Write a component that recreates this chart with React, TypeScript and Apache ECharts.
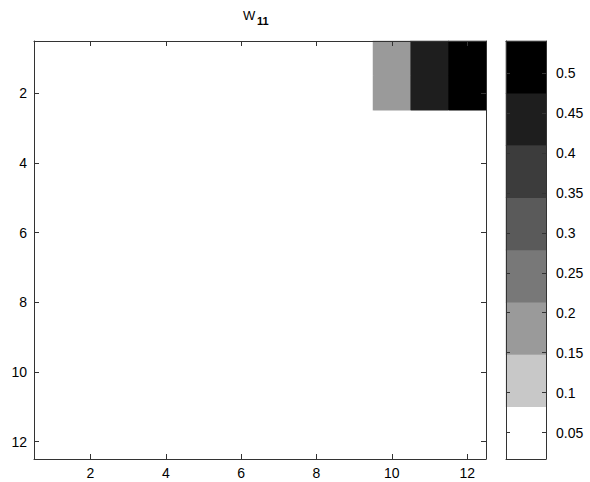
import React, { useEffect, useRef } from 'react';
import * as echarts from 'echarts';

const colLabels = ['1', '2', '3', '4', '5', '6', '7', '8', '9', '10', '11', '12'];
const rowLabels = ['1', '2', '3', '4', '5', '6', '7', '8', '9', '10', '11', '12'];

// W11 matrix, row 1 at the top
const W11 = [
  [0.017, 0.017, 0.017, 0.017, 0.017, 0.017, 0.017, 0.017, 0.017, 0.18, 0.46, 0.54],
  [0.017, 0.017, 0.017, 0.017, 0.017, 0.017, 0.017, 0.017, 0.017, 0.18, 0.46, 0.54],
  [0.017, 0.017, 0.017, 0.017, 0.017, 0.017, 0.017, 0.017, 0.017, 0.017, 0.017, 0.017],
  [0.017, 0.017, 0.017, 0.017, 0.017, 0.017, 0.017, 0.017, 0.017, 0.017, 0.017, 0.017],
  [0.017, 0.017, 0.017, 0.017, 0.017, 0.017, 0.017, 0.017, 0.017, 0.017, 0.017, 0.017],
  [0.017, 0.017, 0.017, 0.017, 0.017, 0.017, 0.017, 0.017, 0.017, 0.017, 0.017, 0.017],
  [0.017, 0.017, 0.017, 0.017, 0.017, 0.017, 0.017, 0.017, 0.017, 0.017, 0.017, 0.017],
  [0.017, 0.017, 0.017, 0.017, 0.017, 0.017, 0.017, 0.017, 0.017, 0.017, 0.017, 0.017],
  [0.017, 0.017, 0.017, 0.017, 0.017, 0.017, 0.017, 0.017, 0.017, 0.017, 0.017, 0.017],
  [0.017, 0.017, 0.017, 0.017, 0.017, 0.017, 0.017, 0.017, 0.017, 0.017, 0.017, 0.017],
  [0.017, 0.017, 0.017, 0.017, 0.017, 0.017, 0.017, 0.017, 0.017, 0.017, 0.017, 0.017],
  [0.017, 0.017, 0.017, 0.017, 0.017, 0.017, 0.017, 0.017, 0.017, 0.017, 0.017, 0.017],
];

// 8-level gray colormap, lowest level first
const levelColors = ['#ffffff', '#c8c8c8', '#9a9a9a', '#787878', '#5a5a5a', '#3c3c3c', '#1e1e1e', '#000000'];
const colorbarTicks = [0.05, 0.1, 0.15, 0.2, 0.25, 0.3, 0.35, 0.4, 0.45, 0.5];

const FONT = 'Liberation Sans, Arial, Helvetica, sans-serif';
const AXIS_COLOR = '#333';

export default function App() {
  const ref = useRef<HTMLDivElement>(null);

  useEffect(() => {
    if (!ref.current) return;
    const chart = echarts.init(ref.current, undefined, { renderer: 'svg' });

    const flat = W11.flat();
    const cMin = Math.min(...flat);
    const cMax = Math.max(...flat);
    const nLev = levelColors.length;
    const step = (cMax - cMin) / nLev;
    const pieces = levelColors.map((color, i) => {
      const lo = cMin + i * step;
      const hi = cMin + (i + 1) * step;
      return i === nLev - 1
        ? { gte: lo - 1e-12, lte: hi + 1e-9, color }
        : { gte: i === 0 ? lo - 1e-9 : lo, lt: hi, color };
    });

    const heatData: number[][] = [];
    W11.forEach((row, r) => row.forEach((v, c) => heatData.push([c, r, v])));
    const barData = levelColors.map((_, i) => [0, i, cMin + (i + 0.5) * step]);
    const levelCats = levelColors.map((_, i) => String(i));

    const evenIdx = (i: number) => i % 2 === 1;
    const line = { show: true, lineStyle: { color: AXIS_COLOR, width: 1 } };
    const label = { color: '#000', fontSize: 14, fontFamily: FONT };
    const tick = { show: true, inside: true, length: 5, interval: evenIdx, alignWithLabel: true, lineStyle: { color: AXIS_COLOR } };
    const cbTick = { show: true, inside: true, length: 4, customValues: colorbarTicks, lineStyle: { color: AXIS_COLOR } };

    chart.setOption({
      animation: false,
      backgroundColor: '#fff',
      graphic: [
        {
          type: 'text', x: 243, y: 9, z: 10,
          style: { text: 'W', fontSize: 13, fontFamily: FONT, fill: '#000' },
        },
        {
          type: 'text', x: 257, y: 15, z: 10,
          style: { text: '11', fontSize: 11, fontWeight: 'bold', fontFamily: FONT, fill: '#000' },
        },
      ],
      grid: [
        { left: 34, top: 41, width: 452, height: 418 },
        { left: 506, top: 41, width: 40, height: 418 },
      ],
      xAxis: [
        {
          type: 'category', gridIndex: 0, data: colLabels, position: 'bottom', z: 5,
          axisLine: line, axisTick: tick,
          axisLabel: { ...label, interval: evenIdx, margin: 7 },
          splitLine: { show: false },
        },
        {
          type: 'category', gridIndex: 0, data: colLabels, position: 'top', z: 5,
          axisLine: line, axisTick: tick,
          axisLabel: { show: false },
          splitLine: { show: false },
        },
        {
          type: 'category', gridIndex: 1, data: [''], position: 'bottom', z: 5,
          axisLine: line, axisTick: { show: false }, axisLabel: { show: false }, splitLine: { show: false },
        },
        {
          type: 'category', gridIndex: 1, data: [''], position: 'top', z: 5,
          axisLine: line, axisTick: { show: false }, axisLabel: { show: false }, splitLine: { show: false },
        },
      ],
      yAxis: [
        {
          type: 'category', gridIndex: 0, data: rowLabels, inverse: true, position: 'left', z: 5,
          axisLine: line, axisTick: tick,
          axisLabel: { ...label, interval: evenIdx, margin: 7 },
          splitLine: { show: false },
        },
        {
          type: 'category', gridIndex: 0, data: rowLabels, inverse: true, position: 'right', z: 5,
          axisLine: line, axisTick: tick,
          axisLabel: { show: false },
          splitLine: { show: false },
        },
        {
          type: 'category', gridIndex: 1, data: levelCats, show: false,
        },
        {
          type: 'value', gridIndex: 1, position: 'right', min: cMin, max: cMax, z: 5,
          axisLine: line, axisTick: cbTick,
          axisLabel: { ...label, customValues: colorbarTicks, margin: 10 },
          splitLine: { show: false },
        },
        {
          type: 'value', gridIndex: 1, position: 'left', min: cMin, max: cMax, z: 5,
          axisLine: line, axisTick: cbTick,
          axisLabel: { show: false },
          splitLine: { show: false },
        },
      ],
      visualMap: {
        type: 'piecewise',
        show: false,
        seriesIndex: [0, 1],
        dimension: 2,
        pieces,
      },
      series: [
        {
          type: 'heatmap', xAxisIndex: 0, yAxisIndex: 0, data: heatData,
          itemStyle: { borderWidth: 0 },
          z: 1,
        },
        {
          type: 'heatmap', xAxisIndex: 2, yAxisIndex: 2, data: barData,
          itemStyle: { borderWidth: 0 },
          z: 1,
        },
      ],
    });

    return () => chart.dispose();
  }, []);

  return <div ref={ref} style={{ width: 590, height: 482, position: 'absolute', left: 0, top: 0 }} />;
}
